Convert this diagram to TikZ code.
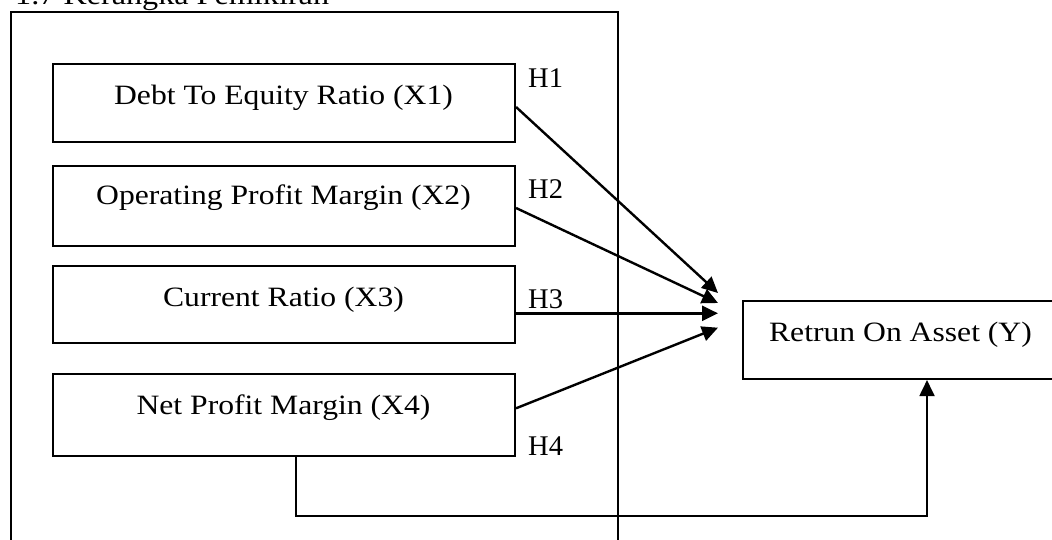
\documentclass[tikz,border=0pt]{standalone}
\usepackage{fontspec}
\setmainfont{Liberation Serif}
\usetikzlibrary{arrows.meta,calc}
\newcommand{\widetxt}[1]{\scalebox{1.13}[1]{#1}}
\tikzset{
  box/.style={draw, line width=2.1pt, rectangle, inner sep=0pt},
  lbl/.style={anchor=base, inner sep=0pt, font=\fontsize{28}{32}\selectfont},
  hlbl/.style={anchor=base west, inner sep=0pt, font=\fontsize{28.5}{32}\selectfont},
  arr/.style={line width=2.4pt, -{Triangle[length=16pt,width=15pt]}},
  frame/.style={line width=2.2pt},
}
\begin{document}
\begin{tikzpicture}[x=1pt,y=-1pt]
\useasboundingbox (0,0) rectangle (1052,540);
\clip (0,0) rectangle (1052,540);
% heading (cut off at the top)
\node[hlbl] (head) at (15,5) {\widetxt{1.7 Kerangka Pemikiran}};
% outer frame (open at bottom, beyond the page)
\draw[frame] (11,560) -- (11,12) -- (618,12) -- (618,560);
% boxes
\node[box, minimum width=462pt, minimum height=78pt] (x1) at (284,103.3) {};
\node[box, minimum width=462pt, minimum height=80pt] (x2) at (284,206) {};
\node[box, minimum width=462pt, minimum height=77.6pt] (x3) at (284,304.5) {};
\node[box, minimum width=462pt, minimum height=81.7pt] (x4) at (284,414.9) {};
\node[box, minimum width=330pt, minimum height=78pt] (y) at (908,340) {};
% texts
\node[lbl] (t1) at (283.5,105) {\widetxt{Debt To Equity Ratio (X1)}};
\node[lbl] (t2) at (283.5,204.3) {\widetxt{Operating Profit Margin (X2)}};
\node[lbl] (t3) at (283.5,306.7) {\widetxt{Current Ratio (X3)}};
\node[lbl] (t4) at (283.5,414.3) {\widetxt{Net Profit Margin (X4)}};
\node[lbl] (ty) at (900.5,341) {\widetxt{Retrun On Asset (Y)}};
% hypothesis labels
\node[hlbl] (h1) at (528,87.3) {H1};
\node[hlbl] (h2) at (528,198.3) {H2};
\node[hlbl] (h3) at (528,308.3) {H3};
\node[hlbl] (h4) at (528,455) {H4};
% arrow end points
\coordinate (e1) at (718,293);
\coordinate (e2) at (718,303);
\coordinate (e3) at (718,313.3);
\coordinate (e4) at (718,327.7);
\coordinate (bend) at (927,516);
% arrows
\draw[arr] ([yshift=-3.7pt]x1.east) -- (e1);
\draw[arr] ([yshift=-2pt]x2.east) -- (e2);
\draw[arr] ([yshift=-8.8pt]x3.east) -- (e3);
\draw[arr] ([yshift=6.6pt]x4.east) -- (e4);
\draw[arr, line width=1.9pt] ([xshift=12pt]x4.south) |- (bend) -- (bend |- y.south);
\end{tikzpicture}
\end{document}
